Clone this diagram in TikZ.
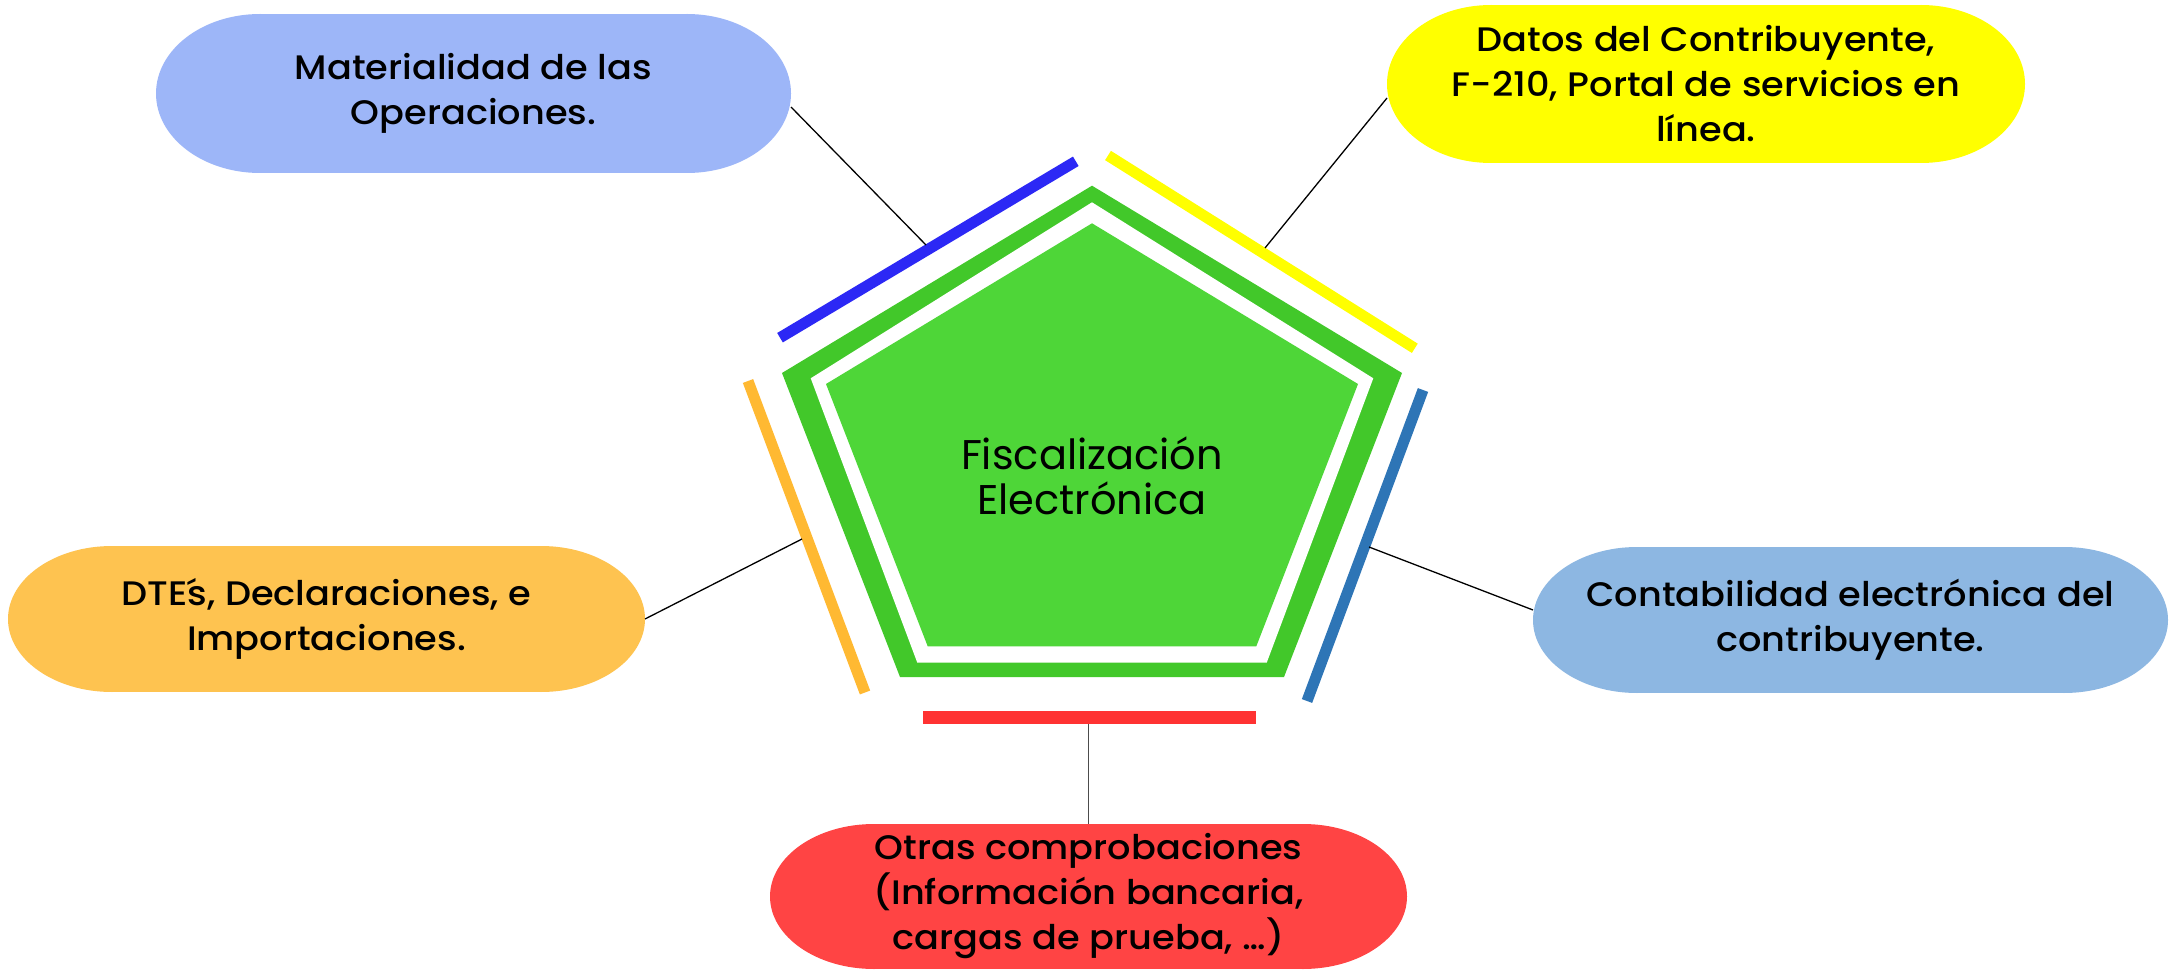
\documentclass[tikz,border=0pt]{standalone}
\usepackage{fontspec}
\setmainfont{Poppins}
\newfontfamily\boxfont{Poppins Medium}[FakeStretch=1.08]
\definecolor{gband}{RGB}{66,200,42}
\definecolor{gfill}{RGB}{78,214,56}
\definecolor{barblue}{RGB}{44,40,245}
\definecolor{baryellow}{RGB}{255,255,0}
\definecolor{barorange}{RGB}{255,185,50}
\definecolor{barsteel}{RGB}{46,117,182}
\definecolor{barred}{RGB}{255,50,50}
\definecolor{boxblue}{RGB}{157,182,248}
\definecolor{boxyellow}{RGB}{255,255,0}
\definecolor{boxorange}{RGB}{254,195,80}
\definecolor{boxsteel}{RGB}{141,183,226}
\definecolor{boxred}{RGB}{255,68,68}
% #1 name, #2 colour, #3 cx, #4 cy, #5 width, #6 height, #7 text
\newcommand{\mystadium}[7]{%
  \fill[#2] ({#3-#5/2+104},{#4-#6/2}) rectangle ({#3+#5/2-104},{#4+#6/2});
  \fill[#2] ({#3-#5/2+104},#4) ellipse [x radius=104, y radius={#6/2}];
  \fill[#2] ({#3+#5/2-104},#4) ellipse [x radius=104, y radius={#6/2}];
  \node[boxtext, minimum width=#5, minimum height=#6] (#1) at (#3,#4) {#7};
}
\begin{document}
\begin{tikzpicture}[x=1pt,y=-1pt,
  boxtext/.style={align=center, inner sep=0pt, outer sep=0pt,
    font=\boxfont\fontsize{34}{45}\selectfont, text=black},
  centertext/.style={align=center, inner sep=0pt,
    font=\fontsize{41.5}{45}\selectfont, text=black},
  bar/.style={line width=11pt},
  conn/.style={line width=1.3pt, black}]
\useasboundingbox (0,0) rectangle (2177,973);
\fill[white] (0,0) rectangle (2177,973);

% pentagon
\fill[gband] (1092,185.7) -- (1402,373) -- (1284,677) -- (900,677) -- (782,373) -- cycle;
\fill[white] (1092,202.3) -- (1373.3,378.3) -- (1266.7,662.7) -- (917.3,662.7) -- (810.7,378.3) -- cycle;
\fill[gfill] (1092,223.3) -- (1358,384) -- (1256.3,646.3) -- (927.7,646.3) -- (826,384) -- cycle;
\node[centertext] (fe) at (1092,475.5) {Fiscalización\\Electrónica};

% bars
\draw[bar, barblue] (780,337.7) -- (1075.8,161.3);
\draw[bar, baryellow] (1108,155.5) -- (1414.8,348.3);
\draw[bar, barsteel] (1423,390) -- (1307,701);
\draw[bar, barorange] (748,381) -- (865,692.5);
\draw[line width=13pt, barred] (923,717.3) -- (1256,717.3);

% boxes
\mystadium{mat}{boxblue}{473.5}{93.5}{635}{159}{Materialidad de las\\Operaciones.}
\mystadium{dat}{boxyellow}{1706}{84}{638}{158}{Datos del Contribuyente,\\F-210, Portal de servicios en\\línea.}
\mystadium{dte}{boxorange}{326.5}{619}{637}{146}{DTE\makebox[0pt][l]{´}s, Declaraciones, e\\Importaciones.}
\mystadium{con}{boxsteel}{1850.5}{620}{635}{146}{Contabilidad electrónica del\\contribuyente.}
\mystadium{otr}{boxred}{1088.5}{896.5}{637}{145}{Otras comprobaciones\\(Información bancaria,\\cargas de prueba, …)}

% connector ends on the bars
\coordinate (cblue) at (926,245);
\coordinate (cyellow) at (1265,248);
\coordinate (corange) at (802,539);
\coordinate (csteel) at (1369,547);
\coordinate (cred) at (1088.5,724);

\draw[conn] ([yshift=-13.5pt]mat.east) -- (cblue);
\draw[conn] ([yshift=-14pt]dat.west) -- (cyellow);
\draw[conn] (dte.east) -- (corange);
\draw[conn] ([yshift=10pt]con.west) -- (csteel);
\draw[conn, black!70] (otr.north) -- (cred);
\end{tikzpicture}
\end{document}
